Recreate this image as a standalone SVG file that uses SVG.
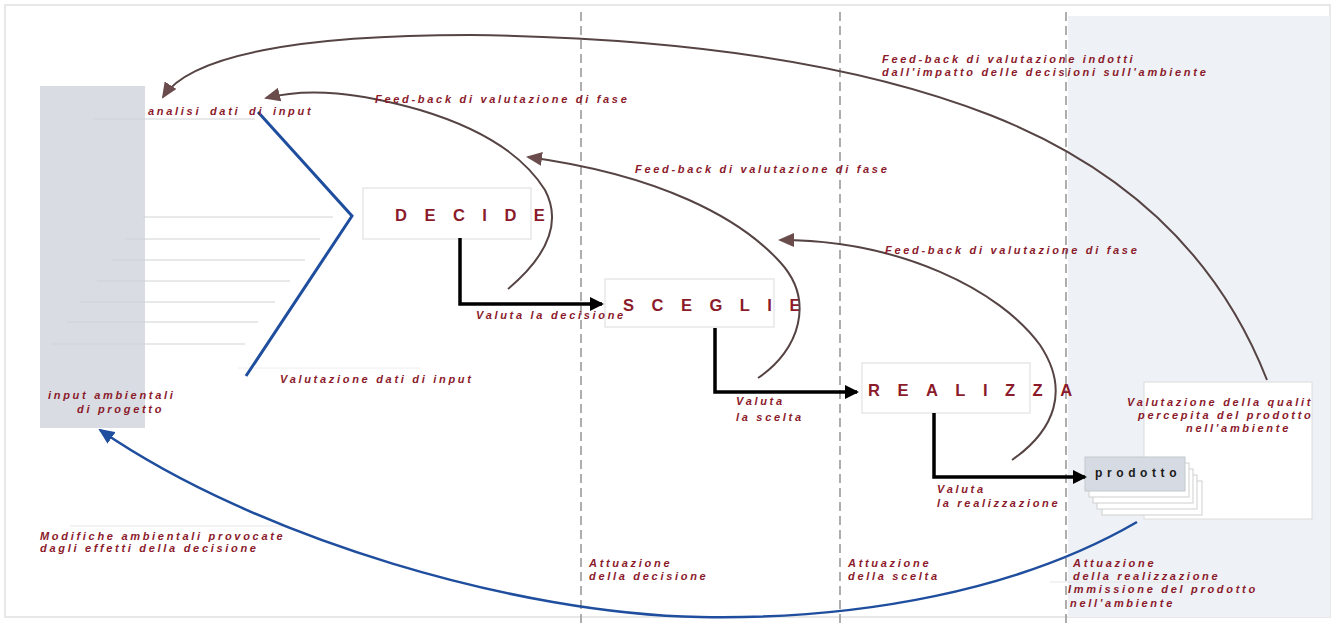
<svg xmlns="http://www.w3.org/2000/svg" width="1340" height="626" viewBox="0 0 1340 626">
<defs>
<style>
.lbl{font-family:"Liberation Sans",Arial,sans-serif;font-size:11px;font-style:italic;font-weight:bold;fill:#8b1a2b;letter-spacing:2.7px}
.big{font-family:"Liberation Sans",Arial,sans-serif;font-size:16.5px;font-weight:bold;fill:#8b1a2b;letter-spacing:17.5px}
.box{fill:#ffffff;stroke:#dcdcdc;stroke-width:1}
.fb{fill:none;stroke:#564444;stroke-width:2}
.step{fill:none;stroke:#000;stroke-width:3.5}
.dash{stroke:#9a9a9a;stroke-width:1.6;stroke-dasharray:9 5}
.thin{stroke:#cfd2d6;stroke-width:1}
</style>
<marker id="ab" viewBox="0 0 14 14" refX="12" refY="7" markerWidth="14" markerHeight="14" markerUnits="userSpaceOnUse" orient="auto"><path d="M0,0 L14,7 L0,14 z" fill="#000"/></marker>
<marker id="ar" viewBox="0 0 16 14" refX="14" refY="7" markerWidth="16" markerHeight="14" markerUnits="userSpaceOnUse" orient="auto"><path d="M0,0 L16,7 L0,14 z" fill="#6a4c4c"/></marker>
<marker id="abl" viewBox="0 0 16 14" refX="14" refY="7" markerWidth="16" markerHeight="14" markerUnits="userSpaceOnUse" orient="auto"><path d="M0,0 L16,7 L0,14 z" fill="#1f4e9e"/></marker>
</defs>
<rect x="0" y="0" width="1340" height="626" fill="#ffffff"/>
<rect x="5" y="5" width="1325" height="612" fill="none" stroke="#e8e8e8" stroke-width="2"/>
<rect x="1068" y="16" width="262" height="601" fill="#eef1f5"/>

<g id="dividers">
<line class="dash" x1="581" y1="12" x2="581" y2="626"/>
<line class="dash" x1="840" y1="12" x2="840" y2="626"/>
<line class="dash" x1="1066" y1="12" x2="1066" y2="626"/>
</g>

<g id="input-ambientali">
<rect x="40" y="86" width="105" height="342" fill="#d9dde3"/>
<text class="lbl" x="48" y="399">input ambientali</text>
<text class="lbl" x="77" y="413">di progetto</text>
</g>

<g id="faint-lines">
<line class="thin" x1="93" y1="119" x2="255" y2="119"/>
<line class="thin" x1="143" y1="217" x2="333" y2="217"/>
<line class="thin" x1="125" y1="239" x2="320" y2="239"/>
<line class="thin" x1="112" y1="260" x2="305" y2="260"/>
<line class="thin" x1="97" y1="281" x2="290" y2="281"/>
<line class="thin" x1="80" y1="302" x2="275" y2="302"/>
<line class="thin" x1="67" y1="322" x2="258" y2="322"/>
<line class="thin" x1="52" y1="344" x2="245" y2="344"/>
<line x1="238" y1="368" x2="420" y2="368" stroke="#eeeeee"/>
<line x1="70" y1="526" x2="290" y2="526" stroke="#e6e6e6"/>
<line x1="1050" y1="582" x2="1220" y2="582" stroke="#e6e6e6"/>
</g>

<g id="valutazione-box">
<rect class="box" x="1144" y="382" width="168" height="137"/>
<text class="lbl" x="1127" y="406">Valutazione della qualit</text>
<text class="lbl" x="1138" y="419">percepita del prodotto</text>
<text class="lbl" x="1186" y="432">nell'ambiente</text>
</g>

<g id="decide">
<rect class="box" x="363" y="188" width="168" height="51"/>
<text class="big" x="395" y="221">DECIDE</text>
</g>
<g id="sceglie">
<rect class="box" x="605" y="279" width="169" height="48"/>
<text class="big" x="623" y="311">SCEGLIE</text>
</g>
<g id="realizza">
<rect class="box" x="862" y="363" width="168" height="50"/>
<text class="big" x="868" y="396">REALIZZA</text>
</g>

<g id="prodotto">
<rect x="1102" y="481" width="100" height="34" fill="#ffffff" stroke="#cfcfcf"/>
<rect x="1097" y="475" width="100" height="34" fill="#ffffff" stroke="#cfcfcf"/>
<rect x="1093" y="469" width="100" height="34" fill="#ffffff" stroke="#cfcfcf"/>
<rect x="1089" y="463" width="100" height="34" fill="#ffffff" stroke="#cfcfcf"/>
<rect x="1085" y="457" width="100" height="34" fill="#d6dbe3" stroke="#c4c8ce"/>
<text x="1095" y="477" font-family="'Liberation Sans',Arial,sans-serif" font-size="12" font-weight="bold" fill="#1a1a1a" letter-spacing="4.6">prodotto</text>
</g>

<g id="connectors">
<polyline fill="none" stroke="#1f4e9e" stroke-width="3" points="258,112 352,216 246,376"/>
<path class="step" d="M460,238 L460,304 L602,304" marker-end="url(#ab)"/>
<path class="step" d="M715,328 L715,392 L857,392" marker-end="url(#ab)"/>
<path class="step" d="M934,413 L934,477 L1085,477" marker-end="url(#ab)"/>
<path class="fb" d="M1267,380 C1220,260 1130,170 990,115 C870,68 700,38 470,35 C300,35 190,55 163,97" marker-end="url(#ar)"/>
<path class="fb" d="M508,289 C540,262 565,228 545,190 C520,150 470,125 420,110 C360,93 310,87 266,98" marker-end="url(#ar)"/>
<path class="fb" d="M758,378 C800,350 815,300 780,262 C740,218 660,175 528,157" marker-end="url(#ar)"/>
<path class="fb" d="M1012,460 C1055,430 1070,390 1040,345 C1000,290 900,240 780,240" marker-end="url(#ar)"/>
<path fill="none" stroke="#1f4e9e" stroke-width="2.5" d="M1137,522 C1020,590 860,620 700,617 C520,614 260,540 100,430" marker-end="url(#abl)"/>
</g>

<g id="labels">
<text class="lbl" x="148" y="115" style="word-spacing:3px">analisi dati di input</text>
<text class="lbl" x="375" y="103">Feed-back di valutazione di fase</text>
<text class="lbl" x="635" y="173">Feed-back di valutazione di fase</text>
<text class="lbl" x="885" y="254">Feed-back di valutazione di fase</text>
<text class="lbl" x="882" y="63">Feed-back di valutazione indotti</text>
<text class="lbl" x="882" y="76">dall'impatto delle decisioni sull'ambiente</text>
<text class="lbl" x="280" y="383">Valutazione dati di input</text>
<text class="lbl" x="476" y="319">Valuta la decisione</text>
<text class="lbl" x="736" y="405">Valuta</text>
<text class="lbl" x="736" y="421">la scelta</text>
<text class="lbl" x="937" y="493">Valuta</text>
<text class="lbl" x="937" y="507">la realizzazione</text>
<text class="lbl" x="40" y="540">Modifiche ambientali provocate</text>
<text class="lbl" x="40" y="552">dagli effetti della decisione</text>
<text class="lbl" x="589" y="567">Attuazione</text>
<text class="lbl" x="589" y="580">della decisione</text>
<text class="lbl" x="848" y="567">Attuazione</text>
<text class="lbl" x="848" y="580">della scelta</text>
<text class="lbl" x="1073" y="567">Attuazione</text>
<text class="lbl" x="1073" y="580">della realizzazione</text>
<text class="lbl" x="1068" y="593">Immissione del prodotto</text>
<text class="lbl" x="1070" y="607">nell'ambiente</text>
</g>
</svg>
